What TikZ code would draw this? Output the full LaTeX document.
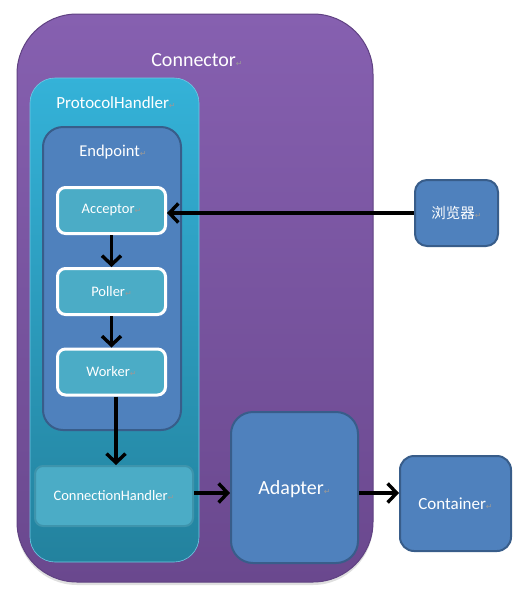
\documentclass[tikz,border=0pt]{standalone}
\usepackage{fontspec}
\setmainfont{Carlito}
\newfontfamily\cjk{Noto Sans CJK SC}
\newfontfamily\dejavu{DejaVu Sans}
\usetikzlibrary{arrows.meta,shadows}
\newcommand\parmk{{\fontsize{8}{8}\selectfont\dejavu\textcolor{gray!80}{↵}}}
\definecolor{pTop}{RGB}{134,96,176}
\definecolor{pBot}{RGB}{106,72,142}
\definecolor{pLine}{RGB}{96,66,130}
\definecolor{cTop}{RGB}{52,178,216}
\definecolor{cBot}{RGB}{35,130,158}
\definecolor{bFill}{RGB}{79,129,189}
\definecolor{bLine}{RGB}{56,93,138}
\definecolor{tFill}{RGB}{75,172,198}
\definecolor{tLine}{RGB}{62,148,172}
\tikzset{
  lbl/.style={text=white, inner sep=0pt},
  bluebox/.style={draw=bLine, line width=2pt, fill=bFill, rounded corners=#1},
  stepbox/.style={draw=white, line width=3pt, fill=tFill, rounded corners=8pt,
    minimum width=108pt, minimum height=46pt, text=white, font=\fontsize{14.5}{14.5}\selectfont},
  flow/.style={line width=3.8pt, -{Straight Barb[length=9pt,width=19pt,line width=3.4pt]}},
}
\begin{document}
\begin{tikzpicture}[x=1pt,y=-1pt]
\useasboundingbox (0,0) rectangle (516,590);
% Connector
\node[draw=pLine, line width=1pt, top color=pTop, bottom color=pBot, rounded corners=60pt,
  minimum width=356pt, minimum height=568pt, inner sep=0pt,
  drop shadow={opacity=0.25, shadow xshift=0pt, shadow yshift=-3pt}] (conn) at (195,298) {};
\node[lbl, font=\fontsize{20}{20}\selectfont] (connl) at (197,60) {Connector\parmk};
% ProtocolHandler
\node[draw=cTop!70!white, line width=0.6pt, top color=cTop, bottom color=cBot, rounded corners=25pt,
  minimum width=169pt, minimum height=484pt, inner sep=0pt] (ph) at (114.5,320) {};
\node[lbl, font=\fontsize{17}{17}\selectfont] (phl) at (116,103) {ProtocolHandler\parmk};
% Endpoint
\node[bluebox=20pt, minimum width=138pt, minimum height=303pt, inner sep=0pt] (ep) at (112,278.5) {};
\node[lbl, font=\fontsize{16.5}{16.5}\selectfont] (epl) at (113,152) {Endpoint\parmk};
% steps
\node[stepbox] (acc) at (111.5,210.5) {Acceptor\parmk};
\node[stepbox] (pol) at (111.5,291.5) {Poller\parmk};
\node[stepbox] (wrk) at (111.5,372) {Worker\parmk};
% ConnectionHandler
\node[draw=tLine, line width=2pt, fill=tFill, rounded corners=8pt, minimum width=158pt,
  minimum height=60pt, text=white, font=\fontsize{14.5}{14.5}\selectfont] (ch) at (114,496) {ConnectionHandler\parmk};
% Adapter
\node[bluebox=22pt, minimum width=127pt, minimum height=151pt, text=white,
  font=\fontsize{20}{20}\selectfont, text depth=0pt] (ad) at (294.5,487.5) {Adapter\parmk};
% Container
\node[bluebox=14pt, minimum width=111pt, minimum height=95pt, text=white,
  font=\fontsize{17}{17}\selectfont] (ct) at (455.5,503.5) {Container\parmk};
% Browser
\node[bluebox=12pt, minimum width=83pt, minimum height=66pt, text=white,
  font=\fontsize{14.5}{14.5}\selectfont] (br) at (456.5,213) {{\cjk 浏览器}\parmk};
% arrows
\draw[flow] (br.west) -- (br.west -| acc.east);
\draw[flow] (acc.south) -- (pol.north);
\draw[flow] (pol.south) -- (wrk.north);
\draw[flow] ([xshift=4.5pt]wrk.south) -- ([xshift=4.5pt]wrk.south |- ch.north);
\coordinate (ay) at (0,493);
\draw[flow] (ch.east |- ay) -- (ad.west |- ay);
\draw[flow] (ad.east |- ay) -- (ct.west |- ay);
\end{tikzpicture}
\end{document}
